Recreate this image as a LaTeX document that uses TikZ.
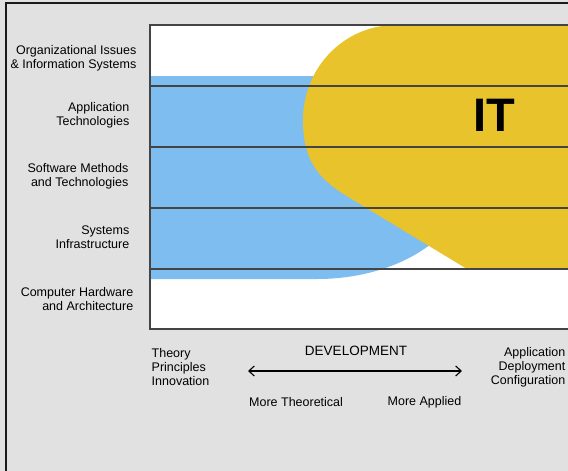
\documentclass[tikz,border=0pt]{standalone}
\usepackage{fontspec}
\setmainfont{Liberation Sans}
\usetikzlibrary{arrows.meta}
\definecolor{bgray}{HTML}{E1E1E1}
\definecolor{frameC}{HTML}{1A1A1A}
\definecolor{lineC}{HTML}{444444}
\definecolor{skyC}{HTML}{7DBDF0}
\definecolor{goldC}{HTML}{E9C32C}
\tikzset{
  rowlabel/.style={anchor=east, align=right, inner sep=0pt, font=\fontsize{12.5}{14}\selectfont},
  axislabel/.style={inner sep=0pt, font=\fontsize{12.5}{14}\selectfont},
  rowline/.style={draw=lineC, line width=1.3pt},
}
\begin{document}
\begin{tikzpicture}[x=1pt, y=-1pt]
\useasboundingbox (0,0) rectangle (568,471);
% background
\fill[bgray] (0,0) rectangle (568,471);
% outer frame (left and top)
\draw[frameC, line width=2pt] (6,471) -- (6,3) -- (568,3);
% inner box
\fill[white] (150,25) rectangle (580,329);
\begin{scope}
\clip (150,25) rectangle (580,329);
% blue region
\fill[skyC] (150,76) -- (467,76) -- (467,179)
  .. controls (467,234.2) and (399.8,279) .. (317,279)
  -- (150,279) -- cycle;
% yellow region
\fill[goldC] (580,25) -- (396,25)
  .. controls (344,25) and (303,67.6) .. (303,120)
  .. controls (303,160) and (318,178) .. (345,195)
  -- (467,269) -- (580,269) -- cycle;
\end{scope}
% row separators
\draw[rowline] (150,86) -- (580,86);
\draw[rowline] (150,147) -- (580,147);
\draw[rowline] (150,208) -- (580,208);
\draw[rowline] (150,269) -- (580,269);
\draw[lineC, line width=1.3pt] (150,25) rectangle (580,329);
% IT label
\node[inner sep=0pt, font=\fontsize{47}{47}\selectfont\bfseries] (it) at (494,115) {IT};
% row labels
\node[rowlabel] (org) at (136.5,58.5) {Organizational Issues\\\& Information Systems};
\node[rowlabel] (app) at (129.5,115.5) {Application\\Technologies};
\node[rowlabel] (soft) at (128.5,176.5) {Software Methods\\and Technologies};
\node[rowlabel] (sys) at (129.5,237.5) {Systems\\Infrastructure};
\node[rowlabel] (comp) at (133.5,299) {Computer Hardware\\and Architecture};
% bottom axis
\node[axislabel, anchor=west, align=left] (theory) at (151.5,367) {Theory\\Principles\\Innovation};
\node[axislabel, anchor=east, align=right] (applic) at (565.5,367) {Application\\Deployment\\Configuration};
\node[inner sep=0pt, font=\fontsize{13.5}{14}\selectfont] (dev) at (356,351) {DEVELOPMENT};
\coordinate (aL) at (248,371);
\coordinate (aR) at (462,371);
\draw[line width=1.1pt, {Straight Barb[length=5.5pt,width=10pt]}-{Straight Barb[length=5.5pt,width=10pt]}] (aL) -- (aR);
\node[axislabel, anchor=west] (theo) at (249,402) {More Theoretical};
\node[axislabel, anchor=east] (appl) at (461.5,402) {More Applied};
\end{tikzpicture}
\end{document}
